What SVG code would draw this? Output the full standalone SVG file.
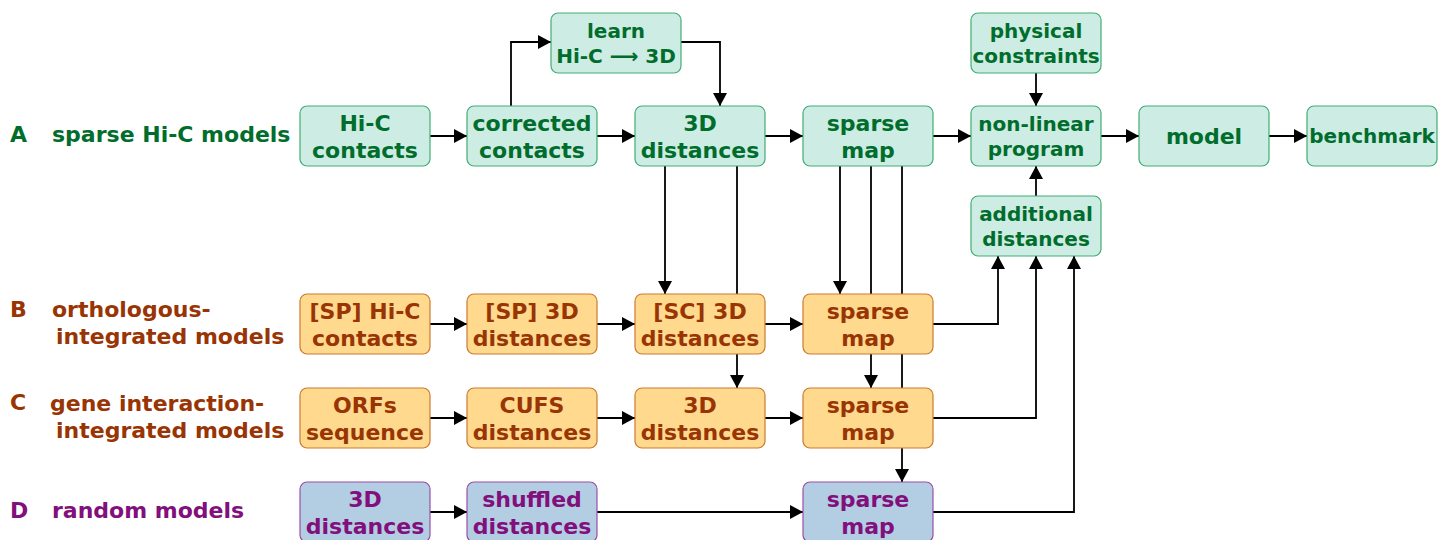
<svg xmlns="http://www.w3.org/2000/svg" width="1450" height="540" viewBox="0 0 1450 540">
<style>
text{font-family:"DejaVu Sans","Liberation Sans",sans-serif;font-weight:bold;font-size:22px;text-anchor:middle}
.lbl{text-anchor:start}
.g rect{fill:#ccece4;stroke:#41ae76;stroke-width:1.2}
.g text,.tg{fill:#006d2c}
.o rect{fill:#fed98e;stroke:#cc7a30;stroke-width:1.2}
.o text,.to{fill:#993404}
.b rect{fill:#b3cde3;stroke:#9a4fa8;stroke-width:1.2}
.b text,.tb{fill:#810f7c}
.s20 text{font-size:20px}
#conn path{fill:none;stroke:#000;stroke-width:1.8;marker-end:url(#ah)}
</style>
<defs>
<marker id="ah" viewBox="0 0 13 14" refX="13" refY="7" markerWidth="13" markerHeight="14" markerUnits="userSpaceOnUse" orient="auto"><path d="M0,0 L13,7 L0,14 z" fill="#000"/></marker>
</defs>
<rect width="1450" height="540" fill="#fff"/>
<g id="labels">
<text class="lbl tg" x="10" y="142">A</text>
<text class="lbl tg" x="52" y="142">sparse Hi-C models</text>
<text class="lbl to" x="10" y="317">B</text>
<text class="lbl to" x="52" y="317">orthologous-</text>
<text class="lbl to" x="56" y="344">integrated models</text>
<text class="lbl to" x="10" y="410">C</text>
<text class="lbl to" x="50" y="411">gene interaction-</text>
<text class="lbl to" x="56" y="438">integrated models</text>
<text class="lbl tb" x="10" y="518">D</text>
<text class="lbl tb" x="52" y="518">random models</text>
</g>
<g id="conn">
<path d="M430,136 H467"/>
<path d="M597,136 H635"/>
<path d="M765,136 H803"/>
<path d="M933,136 H971"/>
<path d="M1101,136 H1139"/>
<path d="M1269,136 H1307"/>
<path d="M511,106 V42 H551"/>
<path d="M681,42 H720 V106"/>
<path d="M1036,73 V106"/>
<path d="M1036,196 V166"/>
<path d="M665,166 V294"/>
<path d="M737,166 V388"/>
<path d="M840,166 V294"/>
<path d="M871,166 V388"/>
<path d="M902,166 V482"/>
<path d="M933,324 H998 V256"/>
<path d="M933,418 H1036 V256"/>
<path d="M933,512 H1074 V256"/>
<path d="M430,324 H467"/>
<path d="M597,324 H635"/>
<path d="M765,324 H803"/>
<path d="M430,418 H467"/>
<path d="M597,418 H635"/>
<path d="M765,418 H803"/>
<path d="M430,512 H467"/>
<path d="M597,512 H803"/>
</g>
<g id="a_hic" class="g"><rect x="300" y="106" width="130" height="60" rx="7"/><text x="365" y="131">Hi-C</text><text x="365" y="158">contacts</text></g>
<g id="a_corr" class="g"><rect x="467" y="106" width="130" height="60" rx="7"/><text x="532" y="131">corrected</text><text x="532" y="158">contacts</text></g>
<g id="a_learn" class="g s20"><rect x="551" y="13" width="130" height="60" rx="7"/><text x="616" y="38">learn</text><text x="616" y="63">Hi-C ⟶ 3D</text></g>
<g id="a_3d" class="g"><rect x="635" y="106" width="130" height="60" rx="7"/><text x="700" y="131">3D</text><text x="700" y="158">distances</text></g>
<g id="a_sparse" class="g"><rect x="803" y="106" width="130" height="60" rx="7"/><text x="868" y="131">sparse</text><text x="868" y="158">map</text></g>
<g id="a_phys" class="g s20"><rect x="971" y="13" width="130" height="60" rx="7"/><text x="1036" y="38">physical</text><text x="1036" y="63">constraints</text></g>
<g id="a_nlp" class="g s20"><rect x="971" y="106" width="130" height="60" rx="7"/><text x="1036" y="131">non-linear</text><text x="1036" y="156">program</text></g>
<g id="a_add" class="g s20"><rect x="971" y="196" width="130" height="60" rx="7"/><text x="1036" y="221">additional</text><text x="1036" y="246">distances</text></g>
<g id="a_model" class="g"><rect x="1139" y="106" width="130" height="60" rx="7"/><text x="1204" y="144">model</text></g>
<g id="a_bench" class="g s20"><rect x="1307" y="106" width="130" height="60" rx="7"/><text x="1372" y="143">benchmark</text></g>
<g id="b_hic" class="o"><rect x="300" y="294" width="130" height="60" rx="7"/><text x="365" y="319">[SP] Hi-C</text><text x="365" y="346">contacts</text></g>
<g id="b_3d" class="o"><rect x="467" y="294" width="130" height="60" rx="7"/><text x="532" y="319">[SP] 3D</text><text x="532" y="346">distances</text></g>
<g id="b_sc" class="o"><rect x="635" y="294" width="130" height="60" rx="7"/><text x="700" y="319">[SC] 3D</text><text x="700" y="346">distances</text></g>
<g id="b_sparse" class="o"><rect x="803" y="294" width="130" height="60" rx="7"/><text x="868" y="319">sparse</text><text x="868" y="346">map</text></g>
<g id="c_orf" class="o"><rect x="300" y="388" width="130" height="60" rx="7"/><text x="365" y="413">ORFs</text><text x="365" y="440">sequence</text></g>
<g id="c_cufs" class="o"><rect x="467" y="388" width="130" height="60" rx="7"/><text x="532" y="413">CUFS</text><text x="532" y="440">distances</text></g>
<g id="c_3d" class="o"><rect x="635" y="388" width="130" height="60" rx="7"/><text x="700" y="413">3D</text><text x="700" y="440">distances</text></g>
<g id="c_sparse" class="o"><rect x="803" y="388" width="130" height="60" rx="7"/><text x="868" y="413">sparse</text><text x="868" y="440">map</text></g>
<g id="d_3d" class="b"><rect x="300" y="482" width="130" height="60" rx="7"/><text x="365" y="507">3D</text><text x="365" y="534">distances</text></g>
<g id="d_shuf" class="b"><rect x="467" y="482" width="130" height="60" rx="7"/><text x="532" y="507">shuffled</text><text x="532" y="534">distances</text></g>
<g id="d_sparse" class="b"><rect x="803" y="482" width="130" height="60" rx="7"/><text x="868" y="507">sparse</text><text x="868" y="534">map</text></g>
</svg>
